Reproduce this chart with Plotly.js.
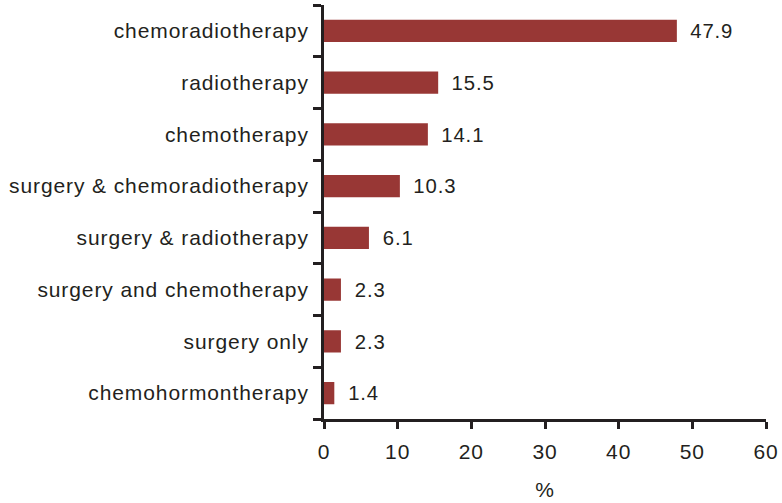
<!DOCTYPE html>
<html><head><meta charset="utf-8">
<script src="https://cdn.plot.ly/plotly-3.0.1.min.js"></script>
<style>html,body{margin:0;padding:0;background:#fff}
#chart text{letter-spacing:0.9px}</style>
</head><body><div id="chart" style="width:782px;height:503px"></div>
<script>
var categories = ["chemoradiotherapy","radiotherapy","chemotherapy","surgery & chemoradiotherapy","surgery & radiotherapy","surgery and chemotherapy","surgery only","chemohormontherapy"];
var values = [47.9,15.5,14.1,10.3,6.1,2.3,2.3,1.4];
var xTicks = [0,10,20,30,40,50,60];

var trace = {
  type: "bar", orientation: "h",
  y: categories.slice().reverse(),
  x: values.slice().reverse(),
  marker: {color: "#983735"},
  width: 0.43,
  text: values.slice().reverse().map(function(v){return "  " + v.toFixed(1);}),
  textposition: "outside",
  textfont: {family: "Liberation Sans, Arial, sans-serif", size: 21, color: "#231f20"},
  cliponaxis: false,
  hoverinfo: "none"
};
var layout = {
  width: 782, height: 503,
  margin: {l: 324, r: 16, t: 5, b: 84},
  paper_bgcolor: "#fff", plot_bgcolor: "#fff",
  showlegend: false,
  font: {family: "Liberation Sans, Arial, sans-serif", size: 21, color: "#231f20"},
  xaxis: {
    range: [0, 60], tickvals: xTicks, ticktext: xTicks.map(String),
    showgrid: false, zeroline: false, showline: true, linecolor: "#231f20", linewidth: 3,
    ticks: "outside", ticklen: 7, tickwidth: 3, tickcolor: "#231f20",
    ticklabelstandoff: 5,
    tickfont: {size: 21}, fixedrange: true,
    title: {text: "%", font: {size: 21}, standoff: 21}
  },
  yaxis: {
    type: "category", categoryorder: "array", categoryarray: categories.slice().reverse(),
    showgrid: false, zeroline: false, showline: true, linecolor: "#231f20", linewidth: 3,
    ticks: "outside", tickson: "boundaries", ticklen: 8, tickwidth: 3, tickcolor: "#231f20",
    ticklabelstandoff: 8, tickfont: {size: 21}, fixedrange: true
  },
  bargap: 0.57
};
Plotly.newPlot("chart", [trace], layout, {displayModeBar: false, staticPlot: true});
</script></body></html>
